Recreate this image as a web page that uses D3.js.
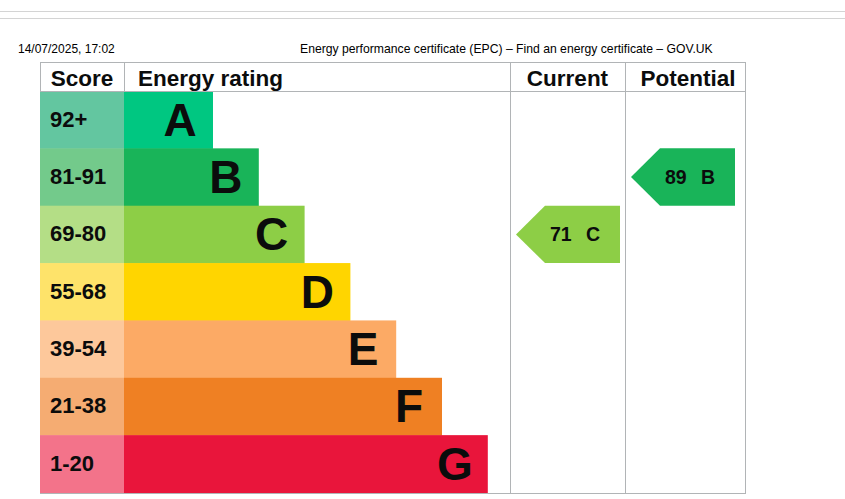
<!DOCTYPE html>
<html>
<head>
<meta charset="utf-8">
<script src="https://cdn.jsdelivr.net/npm/d3@7"></script>
<style>
  html, body { margin: 0; padding: 0; background: #fff; }
  svg { display: block; font-family: "Liberation Sans", Arial, sans-serif; }
</style>
</head>
<body>
<script>
// ---- data ----
const bands = ["A", "B", "C", "D", "E", "F", "G"];
const scoreRanges = ["92+", "81-91", "69-80", "55-68", "39-54", "21-38", "1-20"];
const bandMinScores = [92, 81, 69, 55, 39, 21, 1];
const bandRank = [1, 2, 3, 4, 5, 6, 7];
const bandColors = ["#00c781", "#19b459", "#8dce46", "#ffd500", "#fcaa65", "#ef8023", "#e9153b"];
const scoreCellColors = ["#63c6a0", "#73ca8b", "#b4de86", "#fee36a", "#fdc89b", "#f5ac72", "#f3738a"];
const columnHeaders = ["Score", "Energy rating", "Current", "Potential"];
const currentScore = 71;
const potentialScore = 89;
const printDate = "14/07/2025, 17:02";
const pageTitle = "Energy performance certificate (EPC) \u2013 Find an energy certificate \u2013 GOV.UK";

// ---- layout ----
const W = 845, H = 499;
const tableLeft = 40, scoreRight = 124, currentLeft = 510, potentialLeft = 625, tableRight = 745;
const tableTop = 62, headerBottom = 91, tableBottom = 492.5;
const gridColor = "#b1b4b6";

const svg = d3.select("body").append("svg").attr("width", W).attr("height", H);

// top page lines
svg.append("line").attr("x1", 0).attr("x2", W).attr("y1", 11.5).attr("y2", 11.5)
  .attr("stroke", "#d4d4d4").attr("stroke-width", 1);
svg.append("line").attr("x1", 0).attr("x2", W).attr("y1", 18.5).attr("y2", 18.5)
  .attr("stroke", "#d4d4d4").attr("stroke-width", 1);

// print header
svg.append("text").attr("x", 18).attr("y", 53).attr("font-size", 12).attr("fill", "#000").text(printDate);
svg.append("text").attr("x", 300).attr("y", 53).attr("font-size", 12.2).attr("fill", "#000").text(pageTitle);

// scales
const y = d3.scaleBand().domain(bands).range([headerBottom, tableBottom]).padding(0);
const x = d3.scaleLinear().domain([0, 7]).range([scoreRight + 43.2, scoreRight + 43.2 + 45.8 * 7]);

const rows = bands.map((b, i) => ({
  band: b, range: scoreRanges[i], rank: bandRank[i],
  color: bandColors[i], light: scoreCellColors[i], min: bandMinScores[i]
}));

// score cells
svg.append("g").selectAll("rect").data(rows).join("rect")
  .attr("x", tableLeft).attr("y", d => y(d.band))
  .attr("width", scoreRight - tableLeft).attr("height", y.bandwidth() + 0.5)
  .attr("fill", d => d.light);

// bars
svg.append("g").selectAll("rect").data(rows).join("rect")
  .attr("x", scoreRight).attr("y", d => y(d.band))
  .attr("width", d => x(d.rank) - scoreRight).attr("height", y.bandwidth() + 0.5)
  .attr("fill", d => d.color);

// score labels
svg.append("g").selectAll("text").data(rows).join("text")
  .attr("x", 50).attr("y", d => y(d.band) + y.bandwidth() / 2 + 7)
  .attr("font-size", 22).attr("font-weight", "bold").attr("fill", "#0b0c0c")
  .text(d => d.range);

// band letters
svg.append("g").selectAll("text").data(rows).join("text")
  .attr("x", d => x(d.rank) - 33).attr("y", d => y(d.band) + y.bandwidth() / 2 + 16)
  .attr("text-anchor", "middle")
  .attr("font-size", 46).attr("font-weight", "bold").attr("fill", "#0b0c0c")
  .text(d => d.band);

// grid lines
const g = svg.append("g").attr("stroke", gridColor).attr("stroke-width", 1).attr("shape-rendering", "crispEdges");
g.append("line").attr("x1", tableLeft).attr("x2", tableRight + 0.5).attr("y1", tableTop).attr("y2", tableTop);
g.append("line").attr("x1", tableLeft).attr("x2", tableRight + 0.5).attr("y1", headerBottom).attr("y2", headerBottom);
g.append("line").attr("x1", tableLeft).attr("x2", tableRight + 0.5).attr("y1", tableBottom + 0.5).attr("y2", tableBottom + 0.5);
g.append("line").attr("x1", tableLeft).attr("x2", tableLeft).attr("y1", tableTop).attr("y2", headerBottom);
g.append("line").attr("x1", scoreRight).attr("x2", scoreRight).attr("y1", tableTop).attr("y2", headerBottom);
[currentLeft, potentialLeft, tableRight].forEach(xx => {
  g.append("line").attr("x1", xx).attr("x2", xx).attr("y1", tableTop).attr("y2", tableBottom + 0.5);
});

// headers
const hdr = svg.append("g").attr("font-size", 22.5).attr("font-weight", "bold").attr("fill", "#0b0c0c");
hdr.append("text").attr("x", (tableLeft + scoreRight) / 2).attr("y", 86).attr("text-anchor", "middle").text(columnHeaders[0]);
hdr.append("text").attr("x", 138).attr("y", 86).text(columnHeaders[1]);
hdr.append("text").attr("x", (currentLeft + potentialLeft) / 2).attr("y", 86).attr("text-anchor", "middle").text(columnHeaders[2]);
hdr.append("text").attr("x", (potentialLeft + tableRight) / 2 + 3).attr("y", 86).attr("text-anchor", "middle").text(columnHeaders[3]);

// arrows
function bandFor(score) {
  return rows.find(r => score >= r.min);
}
function drawArrow(colLeft, score) {
  const r = bandFor(score);
  const x0 = colLeft + 6, w = 104, head = 29;
  const top = y(r.band), h = y.bandwidth(), bottom = top + h, mid = top + h / 2;
  const pts = [[x0, mid], [x0 + head, top], [x0 + w, top], [x0 + w, bottom], [x0 + head, bottom]];
  svg.append("path").attr("d", d3.line()(pts) + "Z").attr("fill", r.color);
  const t = svg.append("g").attr("font-size", 19.5).attr("font-weight", "bold").attr("fill", "#0b0c0c");
  t.append("text").attr("x", x0 + 34).attr("y", mid + 7).text(score);
  t.append("text").attr("x", x0 + 70).attr("y", mid + 7).text(r.band);
}
drawArrow(currentLeft, currentScore);
drawArrow(potentialLeft, potentialScore);
</script>
</body>
</html>
